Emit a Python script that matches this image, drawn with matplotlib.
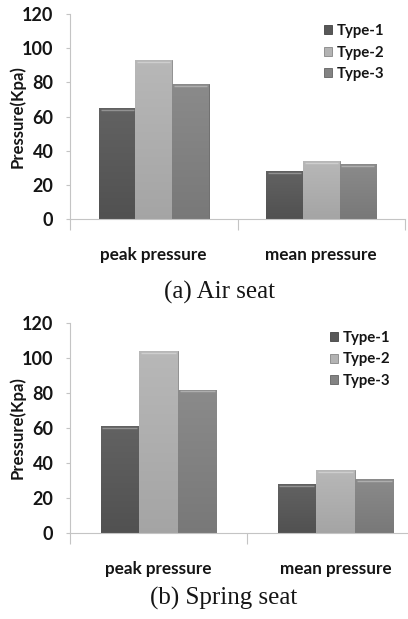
import numpy as np
import matplotlib
matplotlib.use("Agg")
import matplotlib.pyplot as plt
from matplotlib.colors import LinearSegmentedColormap, to_rgb

# ── data ─────────────────────────────────────────────────────────────────────
categories = ["peak pressure", "mean pressure"]
series_names = ["Type-1", "Type-2", "Type-3"]
air_type1 = [65, 28]
air_type2 = [93, 34]
air_type3 = [79, 32]
spring_type1 = [61, 28]
spring_type2 = [104, 36]
spring_type3 = [82, 31]
y_ticks = [0, 20, 40, 60, 80, 100, 120]

# ── style ────────────────────────────────────────────────────────────────────
COLORS = ["#585858", "#b3b3b3", "#838383"]
AXIS_C = "#c4c4c4"
TXT = "#151515"
SANS = ["Lato", "DejaVu Sans"]
SERIF = ["Liberation Serif", "DejaVu Serif"]
BAR_W = 0.218
W, H = 408, 619


def shade(c, f):
    r, g, b = to_rgb(c)
    if f >= 0:
        return (r + (1 - r) * f, g + (1 - g) * f, b + (1 - b) * f)
    return (r * (1 + f), g * (1 + f), b * (1 + f))


def panel(ax, values, legend_xy, label_x):
    x = np.arange(len(categories))
    for i, (vals, col) in enumerate(zip(values, COLORS)):
        bars = ax.bar(x + (i - 1) * BAR_W, vals, BAR_W, color=col,
                      edgecolor=shade(col, -0.25), linewidth=0.6,
                      label=series_names[i], zorder=2)
        cmap = LinearSegmentedColormap.from_list("g", [shade(col, -0.08), shade(col, 0.06)])
        for p in bars:
            x0, y0 = p.get_xy()
            w, h = p.get_width(), p.get_height()
            im = ax.imshow(np.linspace(0, 1, 64).reshape(-1, 1), cmap=cmap,
                           extent=[x0, x0 + w, y0, y0 + h], origin="lower",
                           aspect="auto", zorder=2.1)
            im.set_clip_path(p)
            # light rim just under the top edge
            ax.plot([x0 + 0.01, x0 + w - 0.01], [y0 + h - 1.0, y0 + h - 1.0],
                    color=shade(col, 0.35), lw=1.0, zorder=2.2,
                    solid_capstyle="butt")

    ax.set_xlim(-0.5, len(categories) - 0.5)
    ax.set_ylim(0, 120)
    ax.set_yticks(y_ticks)
    ax.set_xticks(x)
    ax.set_xticks(np.arange(len(categories) + 1) - 0.5, minor=True)
    ax.set_xticklabels(categories, fontsize=12.3, fontweight="bold",
                       color=TXT, family=SANS)
    ax.set_yticklabels([str(v) for v in y_ticks], fontsize=13,
                       fontweight="bold", color=TXT, family=SANS)
    ax.tick_params(axis="x", which="major", length=0, pad=20)
    ax.tick_params(axis="x", which="minor", length=8, color=AXIS_C, width=0.8)
    ax.tick_params(axis="y", length=3, color=AXIS_C, width=0.8, pad=9)
    for s in ("top", "right"):
        ax.spines[s].set_visible(False)
    for s in ("left", "bottom"):
        ax.spines[s].set_color(AXIS_C)
        ax.spines[s].set_linewidth(0.8)
    ax.set_ylabel("Pressure(Kpa)", fontsize=12, fontweight="bold",
                  color=TXT, family=SANS)
    ax.yaxis.set_label_coords(label_x, 0.5)

    leg = ax.legend(loc="upper left", bbox_to_anchor=legend_xy,
                    bbox_transform=ax.figure.transFigure, frameon=False,
                    handlelength=0.55, handleheight=0.55, handletextpad=0.3,
                    labelspacing=0.5, borderpad=0, borderaxespad=0,
                    prop={"family": SANS, "weight": "bold", "size": 10.8})
    for t in leg.get_texts():
        t.set_color(TXT)


fig = plt.figure(figsize=(W / 100, H / 100), dpi=100)
fig.patch.set_facecolor("white")

ax1 = fig.add_axes([70 / W, (H - 219) / H, 335 / W, 205 / H])
panel(ax1, [air_type1, air_type2, air_type3], (324 / W, (H - 24) / H),
      (26 - 70) / 335)

ax2 = fig.add_axes([70 / W, (H - 533) / H, 354 / W, 210 / H])
panel(ax2, [spring_type1, spring_type2, spring_type3], (330 / W, (H - 331) / H),
      (26 - 70) / 354)

fig.text(219 / W, (H - 292) / H, "(a) Air seat", ha="center", va="center",
         fontsize=18, family=SERIF, color=TXT)
fig.text(224 / W, (H - 598) / H, "(b) Spring seat", ha="center", va="center",
         fontsize=18, family=SERIF, color=TXT)

fig.savefig("out.png", dpi=100, facecolor="white")
